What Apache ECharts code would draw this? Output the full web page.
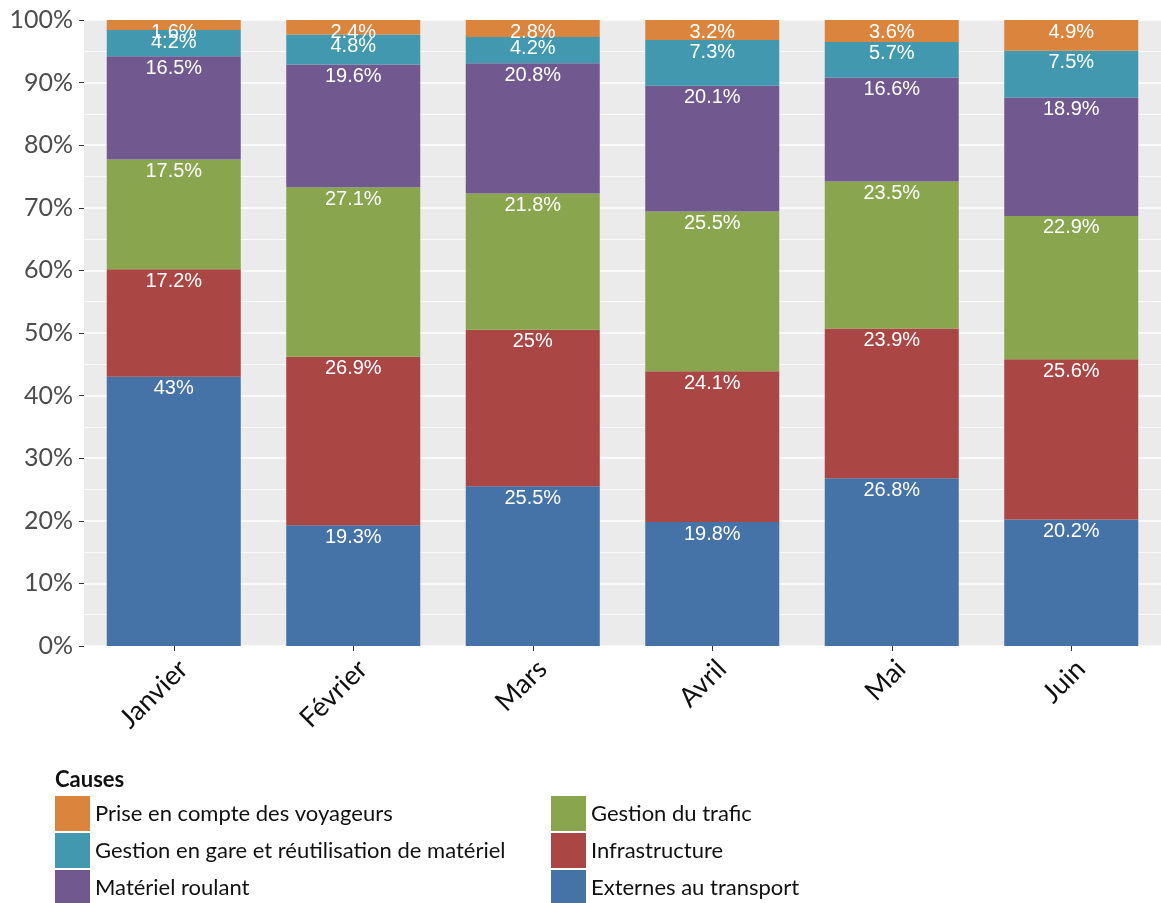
<!DOCTYPE html>
<html>
<head>
<meta charset="utf-8">
<script src="https://cdn.jsdelivr.net/npm/echarts@6/dist/echarts.min.js"></script>
<style>
  html, body { margin: 0; padding: 0; background: #fff; }
  #chart { width: 1161px; height: 903px; }
</style>
</head>
<body>
<div id="chart"></div>
<script>
// Monthly share of delay causes (%), stacked from bottom to top
const months = ['Janvier', 'Février', 'Mars', 'Avril', 'Mai', 'Juin'];

const externes       = [43,   19.3, 25.5, 19.8, 26.8, 20.2];
const infrastructure = [17.2, 26.9, 25,   24.1, 23.9, 25.6];
const gestionTrafic  = [17.5, 27.1, 21.8, 25.5, 23.5, 22.9];
const materiel       = [16.5, 19.6, 20.8, 20.1, 16.6, 18.9];
const gestionGare    = [4.2,  4.8,  4.2,  7.3,  5.7,  7.5];
const voyageurs      = [1.6,  2.4,  2.8,  3.2,  3.6,  4.9];

const yTicks = [0, 10, 20, 30, 40, 50, 60, 70, 80, 90, 100];

const seriesDefs = [
  { name: 'Externes au transport', data: externes, color: '#4572A7' },
  { name: 'Infrastructure', data: infrastructure, color: '#AA4643' },
  { name: 'Gestion du trafic', data: gestionTrafic, color: '#89A54E' },
  { name: 'Matériel roulant', data: materiel, color: '#71588F' },
  { name: 'Gestion en gare et réutilisation de matériel', data: gestionGare, color: '#4198AF' },
  { name: 'Prise en compte des voyageurs', data: voyageurs, color: '#DB843D' }
];

const chart = echarts.init(document.getElementById('chart'), null, { renderer: 'canvas' });

const legendText = { fontFamily: 'Lato', fontSize: 22, color: '#111' };
const legendBase = {
  orient: 'vertical', top: 796, height: 130, padding: 0,
  itemWidth: 35, itemHeight: 35, itemGap: 2, icon: 'rect',
  textStyle: legendText
};

chart.setOption({
  animation: false,
  title: {
    text: 'Causes',
    left: 55, top: 769, padding: 0,
    textStyle: { fontFamily: 'Lato', fontWeight: 'bold', fontSize: 22, color: '#111' }
  },
  legend: [
    Object.assign({}, legendBase, {
      left: 55,
      data: ['Prise en compte des voyageurs', 'Gestion en gare et réutilisation de matériel', 'Matériel roulant']
    }),
    Object.assign({}, legendBase, {
      left: 551,
      data: ['Gestion du trafic', 'Infrastructure', 'Externes au transport']
    })
  ],
  grid: {
    left: 84, top: 20, width: 1080, height: 626,
    show: true, backgroundColor: '#EBEBEB', borderWidth: 0
  },
  xAxis: {
    type: 'category',
    data: months,
    axisLine: { show: false },
    axisTick: { show: true, alignWithLabel: true, length: 5, lineStyle: { color: '#333' } },
    axisLabel: {
      rotate: 45, margin: 9, interval: 0, verticalAlign: 'top',
      fontFamily: 'Lato', fontSize: 27, color: '#111'
    }
  },
  yAxis: {
    type: 'value',
    min: 0, max: 100, interval: 10,
    axisLine: { show: false },
    axisTick: { show: true, length: 5, lineStyle: { color: '#333' } },
    axisLabel: {
      margin: 11, fontFamily: 'Lato', fontSize: 25, color: '#4d4d4d',
      customValues: yTicks,
      formatter: v => v + '%'
    },
    splitLine: { show: true, lineStyle: { color: '#fff', width: 1.6 } },
    minorTick: { show: false, splitNumber: 2 },
    minorSplitLine: { show: true, lineStyle: { color: '#fff', width: 0.8 } }
  },
  series: seriesDefs.map(s => ({
    name: s.name,
    type: 'bar',
    stack: 'total',
    data: s.data,
    barWidth: 134,
    itemStyle: { color: s.color },
    label: {
      show: true,
      position: 'insideTop',
      distance: 2,
      fontFamily: 'Liberation Sans',
      fontSize: 20,
      color: '#fff',
      formatter: p => p.value + '%'
    }
  }))
});
</script>
</body>
</html>
